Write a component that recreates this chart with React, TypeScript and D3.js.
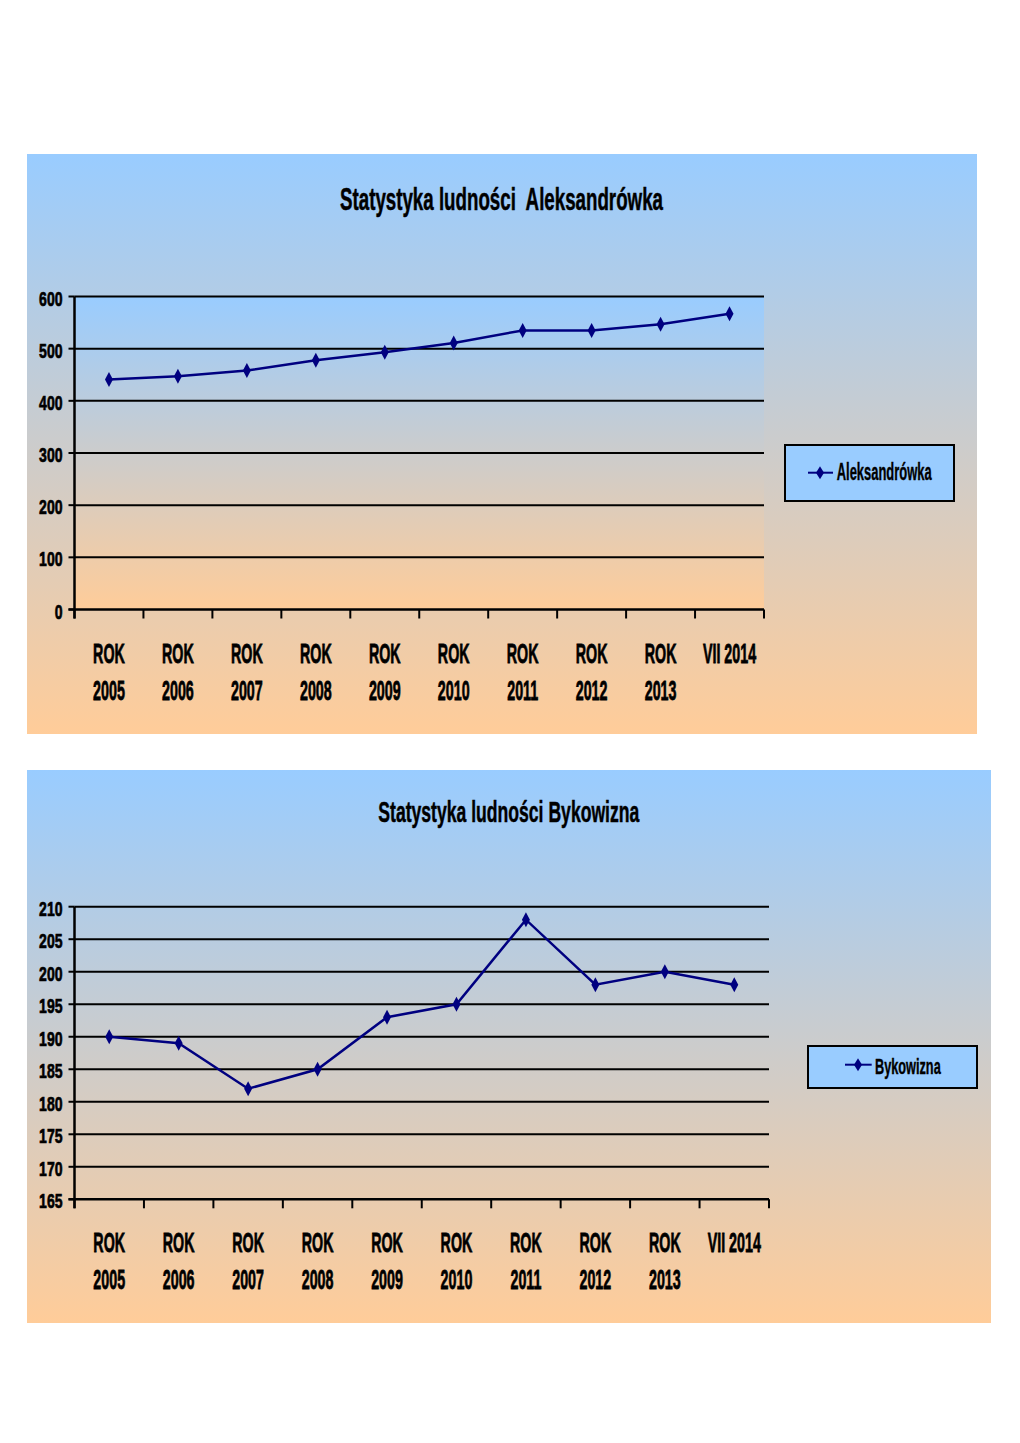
import React from "react";
import * as d3 from "d3";

const categories = [
  "ROK 2005", "ROK 2006", "ROK 2007", "ROK 2008", "ROK 2009",
  "ROK 2010", "ROK 2011", "ROK 2012", "ROK 2013", "VII 2014",
];
const aleksandrowkaValues = [441, 447, 458, 478, 493, 511, 535, 535, 547, 567];
const bykowiznaValues = [190, 189, 182, 185, 193, 195, 208, 198, 200, 198];
const aleksandrowkaTicks = [0, 100, 200, 300, 400, 500, 600];
const bykowiznaTicks = [165, 170, 175, 180, 185, 190, 195, 200, 205, 210];

const FONT = "'Liberation Sans', Arial, sans-serif";
const NAVY = "#000080";
const BLUE = "#99CCFF";
const PEACH = "#FFCC99";

const diamond = (w: number, h: number) => `M0,${-h / 2}L${w / 2},0L0,${h / 2}L${-w / 2},0Z`;

type ChartProps = {
  id: string;
  bg: { x0: number; y0: number; x1: number; y1: number };
  plot: { x0: number; x1: number; yTop: number; yBottom: number };
  domain: [number, number];
  ticks: number[];
  values: number[];
  title: string;
  titleX: number;
  titleY: number;
  titleSize: number;
  titleLen: number;
  plotFill: boolean;
  legend: {
    x0: number; y0: number; x1: number; y1: number;
    lineX0: number; lineX1: number; lineY: number; mark: number;
    textX: number; textY: number; textSize: number; textLen: number; label: string;
  };
};

function Chart(p: ChartProps) {
  const x = d3.scaleBand<string>().domain(categories).range([p.plot.x0, p.plot.x1]).padding(0);
  const y = d3.scaleLinear().domain(p.domain).range([p.plot.yBottom, p.plot.yTop]);
  const cx = (c: string) => (x(c) as number) + x.bandwidth() / 2;
  const line = d3
    .line<number>()
    .x((_, i) => cx(categories[i]))
    .y((v) => y(v));
  const boundaries = categories.map((c) => x(c) as number).concat([p.plot.x1]);
  const L = p.legend;
  return (
    <g>
      <defs>
        <linearGradient id={`bg-${p.id}`} x1="0" y1="0" x2="0" y2="1">
          <stop offset="0" stopColor={BLUE} />
          <stop offset="1" stopColor={PEACH} />
        </linearGradient>
      </defs>
      <rect x={p.bg.x0} y={p.bg.y0} width={p.bg.x1 - p.bg.x0} height={p.bg.y1 - p.bg.y0} fill={`url(#bg-${p.id})`} />
      {p.plotFill && (
        <rect
          x={p.plot.x0}
          y={p.plot.yTop}
          width={p.plot.x1 - p.plot.x0}
          height={p.plot.yBottom - p.plot.yTop}
          fill={`url(#bg-${p.id})`}
        />
      )}
      <text
        x={p.titleX}
        y={p.titleY}
        textAnchor="middle"
        fontFamily={FONT}
        fontWeight="bold"
        fontSize={p.titleSize}
        textLength={p.titleLen}
        lengthAdjust="spacingAndGlyphs"
        stroke="#000"
        strokeWidth={0.5}
        style={{ whiteSpace: "pre" }}
      >
        {p.title}
      </text>
      {/* gridlines */}
      {p.ticks.slice(1).map((t) => (
        <line key={`g${t}`} x1={p.plot.x0} x2={p.plot.x1} y1={y(t)} y2={y(t)} stroke="#000" strokeWidth={2} />
      ))}
      {/* y ticks and labels */}
      {p.ticks.map((t) => (
        <g key={`t${t}`}>
          <line x1={p.plot.x0 - 6} x2={p.plot.x0} y1={y(t)} y2={y(t)} stroke="#000" strokeWidth={2} />
          <text
            transform={`translate(${p.plot.x0 - 12},${y(t) + 9}) scale(0.668,1)`}
            textAnchor="end"
            fontFamily={FONT}
            fontWeight="bold"
            fontSize={21}
            stroke="#000"
            strokeWidth={0.7}
          >
            {t}
          </text>
        </g>
      ))}
      {/* axes */}
      <line x1={p.plot.x0} x2={p.plot.x0} y1={p.plot.yTop} y2={p.plot.yBottom + 9} stroke="#000" strokeWidth={2.5} />
      <line x1={p.plot.x0 - 6} x2={p.plot.x1} y1={p.plot.yBottom} y2={p.plot.yBottom} stroke="#000" strokeWidth={2.5} />
      {boundaries.map((bx, i) => (
        <line key={`b${i}`} x1={bx} x2={bx} y1={p.plot.yBottom} y2={p.plot.yBottom + 9} stroke="#000" strokeWidth={2} />
      ))}
      {/* x labels */}
      {categories.map((c) => {
        const lines = c.startsWith("ROK") ? c.split(" ") : [c];
        return lines.map((ln, j) => (
          <text
            key={`${c}-${j}`}
            transform={`translate(${cx(c)},${p.plot.yBottom + 53 + j * 37}) scale(0.51,1)`}
            textAnchor="middle"
            fontFamily={FONT}
            fontWeight="bold"
            fontSize={28}
            stroke="#000"
            strokeWidth={0.8}
          >
            {ln}
          </text>
        ));
      })}
      {/* series */}
      <path d={line(p.values) || ""} fill="none" stroke={NAVY} strokeWidth={2.5} />
      {p.values.map((v, i) => (
        <path key={`m${i}`} d={diamond(8, 15)} transform={`translate(${cx(categories[i])},${y(v)})`} fill={NAVY} />
      ))}
      {/* legend */}
      <rect x={L.x0} y={L.y0} width={L.x1 - L.x0} height={L.y1 - L.y0} fill={BLUE} stroke="#000" strokeWidth={2} />
      <line x1={L.lineX0} x2={L.lineX1} y1={L.lineY} y2={L.lineY} stroke={NAVY} strokeWidth={2} />
      <path d={diamond(8, 13)} transform={`translate(${L.mark},${L.lineY})`} fill={NAVY} />
      <text
        x={L.textX}
        y={L.textY}
        fontFamily={FONT}
        fontWeight="bold"
        fontSize={L.textSize}
        textLength={L.textLen}
        lengthAdjust="spacingAndGlyphs"
        stroke="#000"
        strokeWidth={0.4}
      >
        {L.label}
      </text>
    </g>
  );
}

export default function App() {
  return (
    <svg
      width={1020}
      height={1443}
      style={{ position: "absolute", left: 0, top: 0, background: "#fff" }}
    >
      <Chart
        id="a"
        bg={{ x0: 27, y0: 154, x1: 977, y1: 734 }}
        plot={{ x0: 74.5, x1: 764, yTop: 296.5, yBottom: 609.5 }}
        domain={[0, 600]}
        ticks={aleksandrowkaTicks}
        values={aleksandrowkaValues}
        title="Statystyka ludności  Aleksandrówka"
        titleX={501.5}
        titleY={210}
        titleSize={32}
        titleLen={323}
        plotFill={true}
        legend={{
          x0: 785, y0: 445, x1: 954, y1: 501,
          lineX0: 808, lineX1: 833, lineY: 472.7, mark: 820,
          textX: 836.7, textY: 480, textSize: 24, textLen: 95, label: "Aleksandrówka",
        }}
      />
      <Chart
        id="b"
        bg={{ x0: 27, y0: 770, x1: 991, y1: 1323 }}
        plot={{ x0: 74.5, x1: 769, yTop: 906.7, yBottom: 1199.3 }}
        domain={[165, 210]}
        ticks={bykowiznaTicks}
        values={bykowiznaValues}
        title="Statystyka ludności Bykowizna"
        titleX={508.8}
        titleY={821.7}
        titleSize={30}
        titleLen={261}
        plotFill={false}
        legend={{
          x0: 808, y0: 1046, x1: 977, y1: 1088,
          lineX0: 845, lineX1: 871.7, lineY: 1064.7, mark: 858,
          textX: 875, textY: 1074, textSize: 22, textLen: 65.7, label: "Bykowizna",
        }}
      />
    </svg>
  );
}
